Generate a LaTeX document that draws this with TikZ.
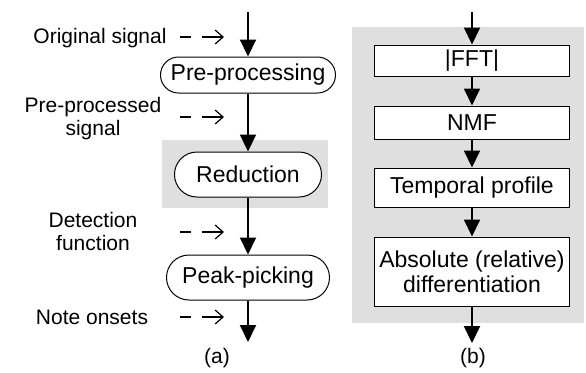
\documentclass[tikz,border=0pt]{standalone}
\usepackage{fontspec}
\setmainfont{Liberation Sans}
\usetikzlibrary{arrows.meta,shapes.misc}

\tikzstyle{pill}  = [draw,fill=white,rounded rectangle,inner sep=0pt,line width=0.5pt,
                     font=\fontsize{11.5}{13}\selectfont]
\tikzstyle{block} = [draw,fill=white,rectangle,inner sep=0pt,line width=0.5pt,
                     minimum width=97.5pt,align=center,font=\fontsize{11.5}{12.5}\selectfont]
\tikzstyle{lbl}   = [align=center,inner sep=0pt,font=\fontsize{10.5}{11.5}\selectfont]
\tikzstyle{flow}  = [line width=1pt,-{Triangle[length=8.5pt,width=8pt]}]
\tikzstyle{hint}  = [line width=0.6pt,dash pattern=on 5.5pt off 5.5pt on 20pt,
                     -{Straight Barb[length=4pt,width=7pt]}]

\begin{document}
\begin{tikzpicture}[x=0.5pt,y=-0.5pt]
  \useasboundingbox (0,0) rectangle (586,372);
  \fill[gray!25] (162,140) rectangle (328,208);
  \fill[gray!25] (352,27) rectangle (584,323);

  % (a)
  \node[pill,minimum width=87.5pt,minimum height=18pt] at (248,75) (pre)  {Pre-processing};
  \node[pill,minimum width=73.5pt,minimum height=22.5pt] at (248,174.5) (red)  {Reduction};
  \node[pill,minimum width=81.5pt,minimum height=22.5pt] at (248,277.5) (peak) {Peak-picking};
  \coordinate (ina)  at (248,12);
  \coordinate (outa) at (248,342);

  \draw[flow] (ina) -- (pre.north);
  \draw[flow] (pre.south) -- (red.north);
  \draw[flow] (red.south) -- (peak.north);
  \draw[flow] (peak.south) -- (outa);

  \node[lbl] at (100,38)  (orig) {Original signal};
  \node[lbl] at (93,119)  (prep) {Pre-processed\\signal};
  \node[lbl] at (93,231)  (det)  {Detection\\function};
  \node[lbl] at (92,317)  (ons)  {Note onsets};

  \coordinate (h1s) at (180,37);  \coordinate (h1e) at (224,37);
  \coordinate (h2s) at (180,117); \coordinate (h2e) at (224,117);
  \coordinate (h3s) at (180,232); \coordinate (h3e) at (224,232);
  \coordinate (h4s) at (180,317); \coordinate (h4e) at (224,317);
  \draw[hint] (h1s) -- (h1e);
  \draw[hint] (h2s) -- (h2e);
  \draw[hint] (h3s) -- (h3e);
  \draw[hint] (h4s) -- (h4e);

  \node[lbl] at (217,358) (capa) {(a)};

  % (b)
  \node[block,minimum height=15.5pt] at (472,60.5)  (fft)  {|FFT|};
  \node[block,minimum height=16.5pt] at (472,122.5) (nmf)  {NMF};
  \node[block,minimum height=19.5pt] at (472,187.5) (temp) {Temporal profile};
  \node[block,minimum height=34.5pt] at (472,271.5) (diff) {Absolute (relative)\\differentiation};
  \coordinate (inb)  at (472,12);
  \coordinate (outb) at (472,343);

  \draw[flow] (inb) -- (fft.north);
  \draw[flow] (fft.south) -- (nmf.north);
  \draw[flow] (nmf.south) -- (temp.north);
  \draw[flow] (temp.south) -- (diff.north);
  \draw[flow] (diff.south) -- (outb);

  \node[lbl] at (473,358) (capb) {(b)};
\end{tikzpicture}
\end{document}
